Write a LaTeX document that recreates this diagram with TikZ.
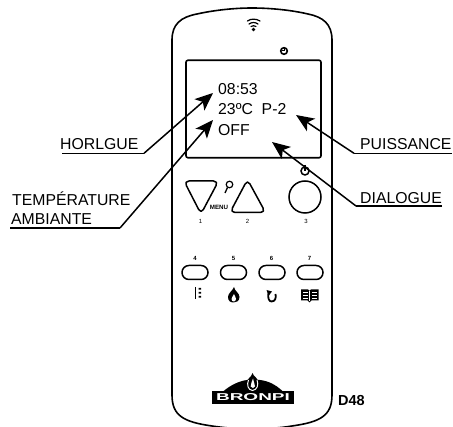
\documentclass[tikz,border=0pt]{standalone}
\usepackage{fontspec}
\setmainfont{Liberation Sans}
\usetikzlibrary{arrows.meta}
\tikzset{
 body/.style={line width=1.6pt,line join=round},
 btn/.style={line width=1.5pt,line join=round,rounded corners=5pt},
 num/.style={inner sep=0pt,font=\fontsize{6}{6}\selectfont},
 big/.style={inner sep=0pt,anchor=base west,font=\fontsize{15.8}{15.8}\selectfont},
 ul/.style={line width=1.5pt},
 pointer/.style={line width=1.5pt,-{Stealth[length=18pt,width=15pt,inset=4.5pt]}},
 pill/.style={draw,line width=1.5pt,rounded corners=6.9pt,minimum width=26pt,minimum height=14pt,inner sep=0pt},
 wifiarc/.style={line width=1.2pt,line cap=round},
}
\begin{document}
\begin{tikzpicture}[x=1pt,y=-1pt]
\useasboundingbox (0,0) rectangle (453,427);
% case
\draw[body] (172,40) .. controls (172,24) and (181,17) .. (197,14) .. controls (215,10) and (235,8) .. (252,8) .. controls (270,8) and (291,10) .. (308,14) .. controls (323,17) and (332,24) .. (332,40) -- (332,395) .. controls (332,416) and (320,422) .. (292,426) .. controls (280,428) and (265,429) .. (252,429) .. controls (240,429) and (225,428) .. (212,426) .. controls (184,422) and (172,416) .. (172,395) -- cycle;
% wifi
\fill (253.5,29.5) circle (1.8);
\draw[wifiarc] (247.5,21) .. controls (251,18.5) and (256,18.5) .. (260,21);
\draw[wifiarc] (249,24) .. controls (252,22) and (255,22) .. (258,24);
\draw[wifiarc] (251,26.5) .. controls (252.5,25.5) and (254.5,25.5) .. (256,26.5);
% clock
\draw[line width=1.6pt] (284,51) circle (3.3);
\draw[line width=1pt] (284,48.5) -- (284,51) -- (282,51);
% screen
\node[draw,line width=1.6pt,rounded corners=2pt,minimum width=135pt,minimum height=97.5pt,inner sep=0pt] (screen) at (253.5,109) {};
\node[big] (t1) at (218,95) {08:53};
\node[big] (t2) at (218,115) {23ºC\ \ P-2};
\node[big] (t3) at (218,135.5) {OFF};
% labels
\node[big] (horl) at (60,150) {HORLGUE};
\node[big] (temp) at (12,206) {TEMPÉRATURE};
\node[big] (amb) at (11,225) {AMBIANTE};
\node[big] (pui) at (360,150) {PUISSANCE};
\node[big] (dia) at (360,204) {DIALOGUE};
\coordinate (a1s) at (62,153.3); \coordinate (a1e) at (144,153.3); \coordinate (a1t) at (213,93);
\coordinate (a2s) at (10,228); \coordinate (a2e) at (120,228); \coordinate (a2t) at (213,120);
\coordinate (a3s) at (452,153.3); \coordinate (a3e) at (354,153.3); \coordinate (a3t) at (296,115);
\coordinate (a4s) at (442,206); \coordinate (a4e) at (356,206); \coordinate (a4t) at (272,142);
\draw[ul] (a1s) -- (a1e); \draw[pointer] (a1e) -- (a1t);
\draw[ul] (a2s) -- (a2e); \draw[pointer] (a2e) -- (a2t);
\draw[ul] (a3s) -- (a3e); \draw[pointer] (a3e) -- (a3t);
\draw[ul] (a4s) -- (a4e); \draw[pointer] (a4e) -- (a4t);
% big buttons
\draw[btn] (184,181) -- (218.5,181) -- (201,214) -- cycle;
\draw[btn] (247.5,179.5) -- (265.5,212.5) -- (230,212.5) -- cycle;
\draw[line width=1.5pt] (305,197) circle (16);
\draw[line width=1.5pt] (305,171) circle (4);
\draw[line width=1.2pt] (305,165) -- (305,171);
\node[inner sep=0pt,font=\fontsize{6.2}{6.2}\selectfont\bfseries] (menu) at (219,207.5) {MENU};
\draw[line width=1.2pt] (229.5,184.5) circle (3.3);
\draw[line width=1.3pt] (227.5,187.5) -- (225,193);
\node[num] (n1) at (200.5,221) {1};
\node[num] (n2) at (247.5,221) {2};
\node[num] (n3) at (306,221) {3};
% small buttons
\node[pill] (p4) at (195,272.5) {};
\node[pill] (p5) at (233.5,272.5) {};
\node[pill] (p6) at (272,272.5) {};
\node[pill] (p7) at (310,272.5) {};
\node[num,font=\fontsize{6}{6}\selectfont\bfseries] (n4) at (195,258.5) {4};
\node[num,font=\fontsize{6}{6}\selectfont\bfseries] (n5) at (233.5,258.5) {5};
\node[num,font=\fontsize{6}{6}\selectfont\bfseries] (n6) at (271.5,258.5) {6};
\node[num,font=\fontsize{6}{6}\selectfont\bfseries] (n7) at (309.5,258.5) {7};
% icon 4
\draw[line width=1.7pt] (195.5,287) -- (195.5,299);
\fill (198.5,288) rectangle (201,289.7) (198.5,292) rectangle (201,293.7) (198.5,296) rectangle (201,297.7);
% icon 5
\fill (234,287) .. controls (234.5,291) and (239.5,293) .. (239.5,297) .. controls (239.5,301) and (236.5,302.5) .. (233.7,302.5) .. controls (230.5,302.5) and (228,301) .. (228,297) .. controls (228,293) and (232.5,291) .. (234,287) -- cycle;
\fill[white] (234,294) .. controls (234.5,296) and (236,297) .. (236,299) .. controls (236,301) and (234.5,301.5) .. (233.7,301.5) .. controls (232.5,301.5) and (231.5,300.5) .. (231.5,299) .. controls (231.5,297) and (233.5,296) .. (234,294) -- cycle;
% icon 6
\draw[line width=1.8pt] (268.5,293) .. controls (267.5,298) and (269,301.5) .. (271.5,301.5) .. controls (275,301.5) and (276.5,298) .. (275.5,294);
\fill (266.5,290) -- (272,291.5) -- (268.5,296) -- cycle;
% icon 7
\fill (301,289.5) -- (308,289.5) -- (309.5,291) -- (311,289.5) -- (318.5,289.5) -- (318.5,300.5) -- (311.5,300.5) -- (309.5,302.5) -- (307.5,300.5) -- (301,300.5) -- cycle;
\draw[white,line width=0.5pt] (309.7,291) -- (309.7,301);
\draw[white,line width=0.8pt] (303,292.5) -- (307.5,292.5) (303,295.5) -- (307.5,295.5) (303,298) -- (307.5,298) (312,292.5) -- (316.5,292.5) (312,295.5) -- (316.5,295.5) (312,298) -- (316.5,298);
% logo
\fill (223,391.5) .. controls (232,384) and (240,381) .. (247,380) -- (260,380) .. controls (268,381) and (275,384) .. (283,391.5) -- cycle;
\fill[white] (253,377) ellipse (0pt and 0pt);
\fill (252.5,373) .. controls (253,376) and (259,379) .. (259.5,384) .. controls (259.5,390) and (255,391.5) .. (252.5,391.5) .. controls (249,391.5) and (246,390) .. (246,384) .. controls (246,379) and (252,377) .. (252.5,373) -- cycle;
\draw[white,line width=1pt] (248.5,380) .. controls (246.5,385) and (248,390) .. (252.5,390.5) .. controls (257,390) and (259,385) .. (257,380);
\fill[white] (253,378.5) .. controls (253,382) and (255.5,384) .. (255,386.5) .. controls (254.5,388.5) and (251.5,388.5) .. (250.7,386.5) .. controls (250,384) and (252.5,382) .. (253,378.5) -- cycle;
\node[fill=black,text=white,minimum width=82pt,minimum height=13pt,inner sep=0pt,font=\fontsize{10}{10}\selectfont\bfseries] (logo) at (253,397.5) {\scalebox{1.9}[1]{BRONPI}};
\node[inner sep=0pt,anchor=base west,font=\fontsize{14.5}{14.5}\selectfont\bfseries] (d48) at (338,405.5) {D48};
\end{tikzpicture}
\end{document}
